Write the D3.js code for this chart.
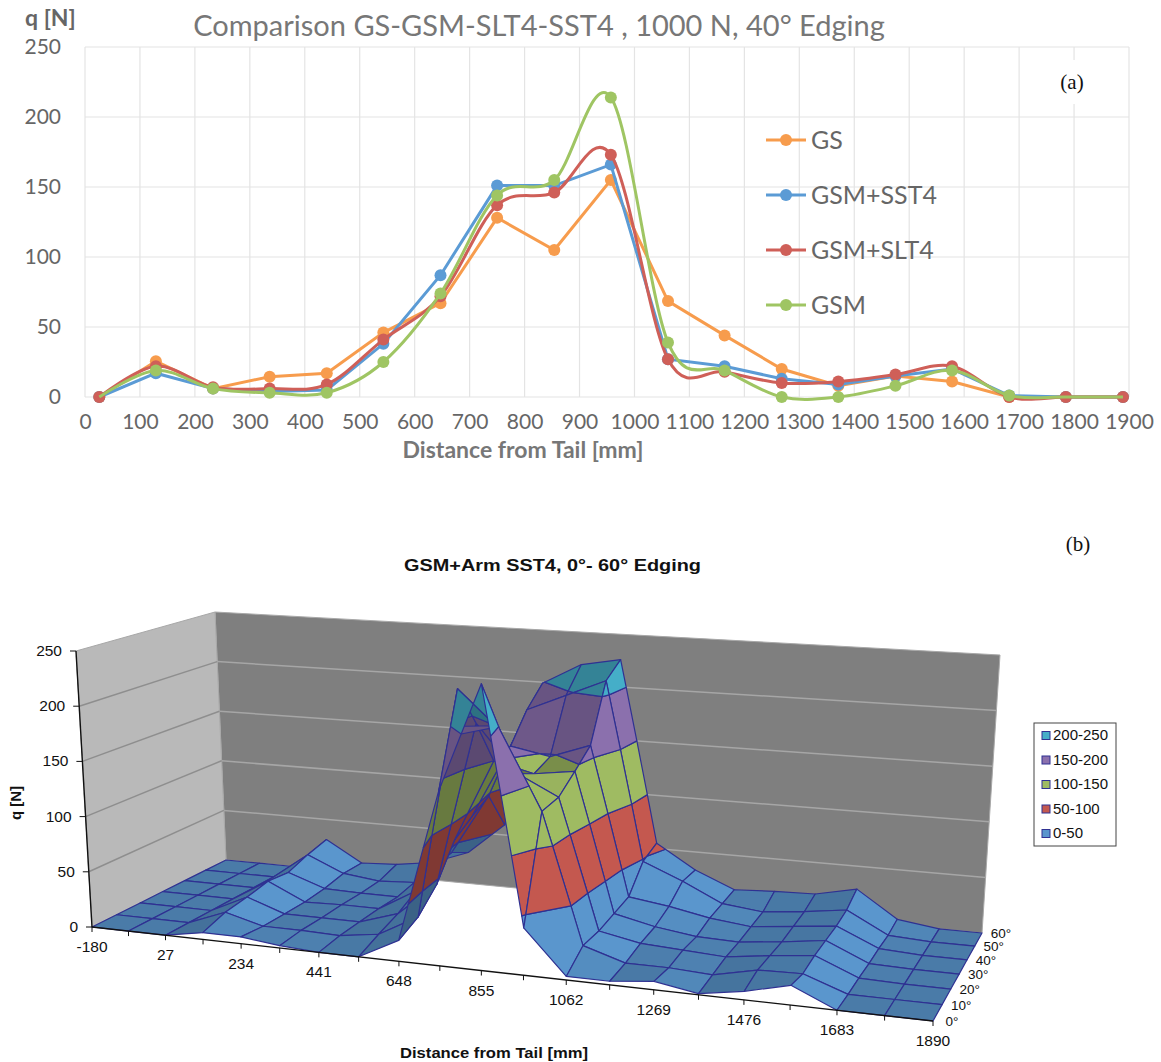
<!DOCTYPE html>
<html lang="en">
<head>
    <meta charset="UTF-8">
    <title>Comparison GS-GSM-SLT4-SST4</title>
    <style>
        body { margin: 0; background: #fff; }
        svg { display: block; }
    </style>
</head>
<body>
    <script src="https://d3js.org/d3.v7.min.js"></script>
    <script>
        // panel (a) data
        const distance = [26, 129, 233, 336, 440, 543, 647, 750, 854, 957, 1061, 1164, 1268, 1371, 1475, 1578, 1682, 1785, 1889];
        const gs = [0, 25.5, 6, 14.5, 17, 46, 67, 128, 105, 155, 68.5, 44, 20, 8, 15, 11, 0, 0, 0];
        const gsmSst4 = [0, 17, 6, 4, 5, 38, 87, 151, 151, 166, 27, 22, 13, 9, 15, 20, 1, 0, 0];
        const gsmSlt4 = [0, 22, 7, 6, 9, 41, 72, 137, 146, 173, 27, 18, 10, 11, 16, 22, 0, 0, 0];
        const gsm = [0, 19, 6, 3, 3, 25, 74, 144, 155, 214, 39, 19, 0, 0, 8, 19, 1, 0, 0];
        const gsmNoMarker = [26, 1785, 1889]; // the red marker shows at these distances
        const xTicksA = d3.range(0, 2000, 100);
        const yTicksA = [0, 50, 100, 150, 200, 250];

        // panel (b) data, one row per edging angle
        const tailDistance = [-180, -76.5, 27, 130.5, 234, 337.5, 441, 544.5, 648, 751.5, 855, 958.5, 1062, 1165.5, 1269, 1372.5, 1476, 1579.5, 1683, 1786.5, 1890];
        const edgeAngles = [0, 10, 20, 30, 40, 50, 60];
        const edge0 = [0, 0, 0, 6, 6, 2, 0, 0, 18, 150, 244, 40, 3, 3, 7, 1, 7, 16, 0, 0, 0];
        const edge10 = [0, 0, 0, 13, 4, 4, 3, 8, 27, 230, 197, 129, 17, 6, 6, 4, 12, 13, 0, 0, 0];
        const edge20 = [0, 0, 0, 16, 4, 4, 4, 15, 45, 192, 150, 132, 18, 11, 9, 7, 12, 16, 1, 0, 0];
        const edge30 = [0, 0, 0, 20, 4, 5, 5, 25, 75, 150, 141, 146, 22, 14, 9, 8, 12, 17, 1, 0, 0];
        const edge40 = [0, 0, 0, 18, 6, 5, 5, 38, 87, 155, 148, 161, 26, 21, 14, 10, 14, 18, 2, 0, 0];
        const edge50 = [0, 0, 0, 25, 10, 6, 8, 40, 97, 181, 197, 213, 48, 33, 16, 12, 16, 21, 2, 0, 0];
        const edge60 = [0, 0, 0, 30, 10, 12, 17, 30, 60, 199, 219, 226, 55, 33, 18, 20, 21, 29, 5, 0, 0];
        const surfaceRows = [edge0, edge10, edge20, edge30, edge40, edge50, edge60];
        const qTicksB = [0, 50, 100, 150, 200, 250];
        const tailLabels = [-180, 27, 234, 441, 648, 855, 1062, 1269, 1476, 1683, 1890];
        const bandLabels = ["200-250", "150-200", "100-150", "50-100", "0-50"];
        const bandLows = [200, 150, 100, 50, 0];
        const bandColors = ["#45aec8", "#8b70ad", "#9fbb62", "#c4584f", "#5a96cd"];

        const svg = d3.select("body").append("svg")
            .attr("width", 1161)
            .attr("height", 1062);

        const calibri = "Lato, 'Open Sans', sans-serif";
        const arial = "'Liberation Sans', Arial, sans-serif";
        const times = "'Liberation Serif', serif";

        // ---------- panel (a) ----------
        const x = d3.scaleLinear().domain([0, 1900]).range([85, 1129]);
        const y = d3.scaleLinear().domain([0, 250]).range([397, 47]);

        const gridA = svg.append("g").attr("stroke", "#e4e4e4").attr("stroke-width", 1.2);
        gridA.selectAll("line.v").data(xTicksA).enter().append("line")
            .attr("x1", d => x(d)).attr("x2", d => x(d))
            .attr("y1", y(250)).attr("y2", y(0));
        gridA.selectAll("line.h").data(yTicksA).enter().append("line")
            .attr("x1", x(0)).attr("x2", x(1900))
            .attr("y1", d => y(d)).attr("y2", d => y(d));

        svg.append("rect").attr("x", 1052).attr("y", 60).attr("width", 40).attr("height", 44).attr("fill", "#fff");

        const xAxisA = svg.append("g")
            .attr("transform", "translate(0,397)")
            .call(d3.axisBottom(x).tickValues(xTicksA).tickFormat(d3.format("d")).tickSize(0).tickPadding(17));
        const yAxisA = svg.append("g")
            .attr("transform", "translate(85,0)")
            .call(d3.axisLeft(y).tickValues(yTicksA).tickSize(0).tickPadding(24));
        [xAxisA, yAxisA].forEach(a => {
            a.select(".domain").remove();
            a.selectAll("text").attr("fill", "#666").style("font-family", calibri).style("font-size", "21px");
        });

        const straightLine = d3.line().x(d => x(d[0])).y(d => y(d[1]));
        const smoothLine = d3.line().x(d => x(d[0])).y(d => y(d[1])).curve(d3.curveCardinal.tension(0));

        const seriesA = [
            { name: "GS", values: gs, color: "#f79c4d", line: straightLine, legendY: 140, skip: [] },
            { name: "GSM+SST4", values: gsmSst4, color: "#5b9bd5", line: straightLine, legendY: 195, skip: [] },
            { name: "GSM+SLT4", values: gsmSlt4, color: "#cf5f58", line: smoothLine, legendY: 250, skip: [] },
            { name: "GSM", values: gsm, color: "#9fc563", line: smoothLine, legendY: 305, skip: gsmNoMarker }
        ];

        seriesA.forEach(s => {
            const pts = distance.map((d, i) => [d, s.values[i]]);
            const g = svg.append("g");
            g.append("path").attr("d", s.line(pts))
                .attr("fill", "none").attr("stroke", s.color).attr("stroke-width", 3);
            g.selectAll("circle").data(pts.filter(p => !s.skip.includes(p[0]))).enter().append("circle")
                .attr("cx", d => x(d[0])).attr("cy", d => y(d[1])).attr("r", 6)
                .attr("fill", s.color);

            const lg = svg.append("g").attr("transform", "translate(0," + s.legendY + ")");
            lg.append("line").attr("x1", 766).attr("x2", 806)
                .attr("stroke", s.color).attr("stroke-width", 3);
            lg.append("circle").attr("cx", 786).attr("r", 6).attr("fill", s.color);
            lg.append("text").text(s.name).attr("x", 811).attr("y", 9)
                .attr("fill", "#666").style("font-family", calibri).style("font-size", "25px");
        });

        svg.append("text").text("Comparison GS-GSM-SLT4-SST4 , 1000 N, 40° Edging")
            .attr("x", 539).attr("y", 36).attr("text-anchor", "middle")
            .attr("fill", "#777").style("font-family", calibri).style("font-size", "29px");
        svg.append("text").text("q [N]")
            .attr("x", 25).attr("y", 26)
            .attr("fill", "#666").style("font-family", calibri).style("font-size", "23px").style("font-weight", "bold");
        svg.append("text").text("Distance from Tail [mm]")
            .attr("x", 523).attr("y", 458).attr("text-anchor", "middle")
            .attr("fill", "#777").style("font-family", calibri).style("font-size", "23px").style("font-weight", "bold");
        svg.append("text").text("(a)")
            .attr("x", 1072).attr("y", 89).attr("text-anchor", "middle")
            .attr("fill", "#111").style("font-family", times).style("font-size", "21px");

        // ---------- panel (b) ----------
        // maps the unit square onto a screen quad (p00, p10, p11, p01)
        function quadMap(p00, p10, p11, p01) {
            const dx1 = p10[0] - p11[0], dx2 = p01[0] - p11[0], sx = p00[0] - p10[0] + p11[0] - p01[0];
            const dy1 = p10[1] - p11[1], dy2 = p01[1] - p11[1], sy = p00[1] - p10[1] + p11[1] - p01[1];
            const den = dx1 * dy2 - dx2 * dy1;
            const g = (sx * dy2 - dx2 * sy) / den, h = (dx1 * sy - sx * dy1) / den;
            const a = p10[0] - p00[0] + g * p10[0], b = p01[0] - p00[0] + h * p01[0];
            const d = p10[1] - p00[1] + g * p10[1], e = p01[1] - p00[1] + h * p01[1];
            return (u, v) => {
                const w = g * u + h * v + 1;
                return [(a * u + b * v + p00[0]) / w, (d * u + e * v + p00[1]) / w];
            };
        }

        const floorMap = quadMap([92, 927], [933, 1021], [982, 933], [226, 860]);
        const topMap = quadMap([76, 651], [952, 706.5], [1000, 655], [215, 612]);

        const uScale = d3.scaleLinear().domain([-180, 1890]).range([0, 1]);
        const vScale = d3.scaleLinear().domain([0, 60]).range([0, 1]);
        const zScale = d3.scaleLinear().domain([0, 250]).range([0, 1]);

        function project(dist, edge, q) {
            const a = floorMap(uScale(dist), vScale(edge));
            const b = topMap(uScale(dist), vScale(edge));
            const t = zScale(q);
            return [a[0] + (b[0] - a[0]) * t, a[1] + (b[1] - a[1]) * t];
        }
        const polyPath = pts => "M" + pts.map(p => p[0] + "," + p[1]).join("L") + "Z";

        // walls
        const xMin = tailDistance[0], xMax = tailDistance[20];
        svg.append("path")
            .attr("d", polyPath([project(xMin, 60, 0), project(xMax, 60, 0), project(xMax, 60, 250), project(xMin, 60, 250)]))
            .attr("fill", "#7f7f7f").attr("stroke", "#a8a8a8").attr("stroke-width", 1);
        svg.append("path")
            .attr("d", polyPath([project(xMin, 0, 0), project(xMin, 60, 0), project(xMin, 60, 250), project(xMin, 0, 250)]))
            .attr("fill", "#b9b9b9").attr("stroke", "#a8a8a8").attr("stroke-width", 1);

        qTicksB.slice(1, 5).forEach(q => {
            const back = project(xMax, 60, q), corner = project(xMin, 60, q), front = project(xMin, 0, q);
            svg.append("path").attr("d", "M" + back + "L" + corner)
                .attr("fill", "none").attr("stroke", "#a6a6a6").attr("stroke-width", 1.5);
            svg.append("path").attr("d", "M" + corner + "L" + front)
                .attr("fill", "none").attr("stroke", "#8e8e8e").attr("stroke-width", 1.5);
        });

        // clip a polygon of [dist, edge, q] to one side of a q level
        function clipQ(poly, level, keepAbove) {
            const inside = p => keepAbove ? p[2] >= level : p[2] <= level;
            const out = [];
            poly.forEach((p, k) => {
                const n = poly[(k + 1) % poly.length];
                if (inside(p)) out.push(p);
                if (inside(p) !== inside(n)) {
                    const t = (level - p[2]) / (n[2] - p[2]);
                    out.push([p[0] + (n[0] - p[0]) * t, p[1] + (n[1] - p[1]) * t, level]);
                }
            });
            return out;
        }

        const floorSign = Math.sign(d3.polygonArea([project(xMin, 0, 0), project(xMax, 0, 0), project(xMax, 60, 0), project(xMin, 60, 0)]));

        // back rows first, left to right, so nearer cells paint over farther ones
        const surface = svg.append("g")
            .attr("stroke", "#2f3192").attr("stroke-width", 1.2).attr("stroke-linejoin", "round");

        for (let r = edgeAngles.length - 2; r >= 0; r--) {
            for (let i = 0; i < tailDistance.length - 1; i++) {
                const cell = [
                    [tailDistance[i], edgeAngles[r], surfaceRows[r][i]],
                    [tailDistance[i + 1], edgeAngles[r], surfaceRows[r][i + 1]],
                    [tailDistance[i + 1], edgeAngles[r + 1], surfaceRows[r + 1][i + 1]],
                    [tailDistance[i], edgeAngles[r + 1], surfaceRows[r + 1][i]]
                ];
                const area = d3.polygonArea(cell.map(p => project(p[0], p[1], p[2])));
                const backFace = Math.sign(area) !== floorSign;
                const slope = ((cell[1][2] - cell[0][2]) + (cell[2][2] - cell[3][2])) / 2;

                let shade = 0.55;
                if (backFace) shade = 1.2;
                else if (slope < 0) shade = Math.max(0, 0.55 + slope / 15);
                else shade = Math.min(0.8, 0.55 + slope / 40);

                bandLows.slice().reverse().forEach(lo => {
                    let poly = clipQ(cell, lo, true);
                    if (poly.length) poly = clipQ(poly, lo + 50, false);
                    if (poly.length < 3) return;
                    const pts = poly.map(p => project(p[0], p[1], p[2]));
                    if (Math.abs(d3.polygonArea(pts)) < 0.01) return;
                    const base = bandColors[bandLows.indexOf(lo)];
                    surface.append("path").attr("d", polyPath(pts))
                        .attr("fill", d3.color(base).darker(shade).formatHex());
                });
            }
        }

        // axes of panel (b)
        const axisInk = "#111";
        svg.append("path").attr("d", "M" + project(xMin, 0, 0) + "L" + project(xMin, 0, 250))
            .attr("stroke", axisInk).attr("stroke-width", 1.4).attr("fill", "none");
        svg.append("path").attr("d", "M" + project(xMin, 0, 0) + "L" + project(xMax, 0, 0))
            .attr("stroke", axisInk).attr("stroke-width", 1.4).attr("fill", "none");

        qTicksB.forEach(q => {
            const p = project(xMin, 0, q);
            svg.append("line").attr("x1", p[0] - 6).attr("x2", p[0]).attr("y1", p[1]).attr("y2", p[1])
                .attr("stroke", axisInk);
            svg.append("text").text(q)
                .attr("x", p[0] - 14).attr("y", p[1] + 5).attr("text-anchor", "end")
                .attr("fill", "#111").style("font-family", arial).style("font-size", "15.5px");
        });

        tailDistance.forEach(d => {
            const p = project(d, 0, 0);
            svg.append("line").attr("x1", p[0]).attr("x2", p[0]).attr("y1", p[1]).attr("y2", p[1] + 5)
                .attr("stroke", axisInk);
        });
        tailLabels.forEach(d => {
            const p = project(d, 0, 0);
            svg.append("text").text(d)
                .attr("x", p[0]).attr("y", p[1] + 25).attr("text-anchor", "middle")
                .attr("fill", "#111").style("font-family", arial).style("font-size", "15.5px");
        });

        edgeAngles.forEach(e => {
            const p = project(xMax, e, 0);
            svg.append("text").text(e + "°")
                .attr("x", p[0] + 19).attr("y", p[1] + 5).attr("text-anchor", "middle")
                .attr("fill", "#111").style("font-family", arial).style("font-size", "13.5px");
        });

        svg.append("text").text("GSM+Arm SST4, 0°- 60° Edging")
            .attr("x", 552.5).attr("y", 571).attr("text-anchor", "middle")
            .attr("textLength", 297).attr("lengthAdjust", "spacingAndGlyphs")
            .attr("fill", "#111").style("font-family", arial).style("font-size", "17px").style("font-weight", "bold");
        svg.append("text").text("Distance from Tail [mm]")
            .attr("x", 494).attr("y", 1058).attr("text-anchor", "middle")
            .attr("textLength", 188).attr("lengthAdjust", "spacingAndGlyphs")
            .attr("fill", "#111").style("font-family", arial).style("font-size", "15px").style("font-weight", "bold");
        svg.append("text").text("q [N]")
            .attr("transform", "translate(21,803) rotate(-90)").attr("text-anchor", "middle")
            .attr("fill", "#111").style("font-family", arial).style("font-size", "15px").style("font-weight", "bold");
        svg.append("text").text("(b)")
            .attr("x", 1078).attr("y", 551).attr("text-anchor", "middle")
            .attr("fill", "#111").style("font-family", times).style("font-size", "21px");

        // legend of panel (b)
        svg.append("rect").attr("x", 1034).attr("y", 723).attr("width", 82).attr("height", 123)
            .attr("fill", "#fff").attr("stroke", "#444").attr("stroke-width", 1);
        const legendY = d3.scalePoint().domain(bandLabels).range([735, 833]);
        bandLabels.forEach((b, k) => {
            svg.append("rect").attr("x", 1042).attr("y", legendY(b) - 3.5).attr("width", 8).attr("height", 8)
                .attr("fill", bandColors[k]).attr("stroke", "#2f3192").attr("stroke-width", 1);
            svg.append("text").text(b)
                .attr("x", 1053).attr("y", legendY(b) + 5)
                .attr("fill", "#111").style("font-family", arial).style("font-size", "15px");
        });
    </script>
</body>
</html>
